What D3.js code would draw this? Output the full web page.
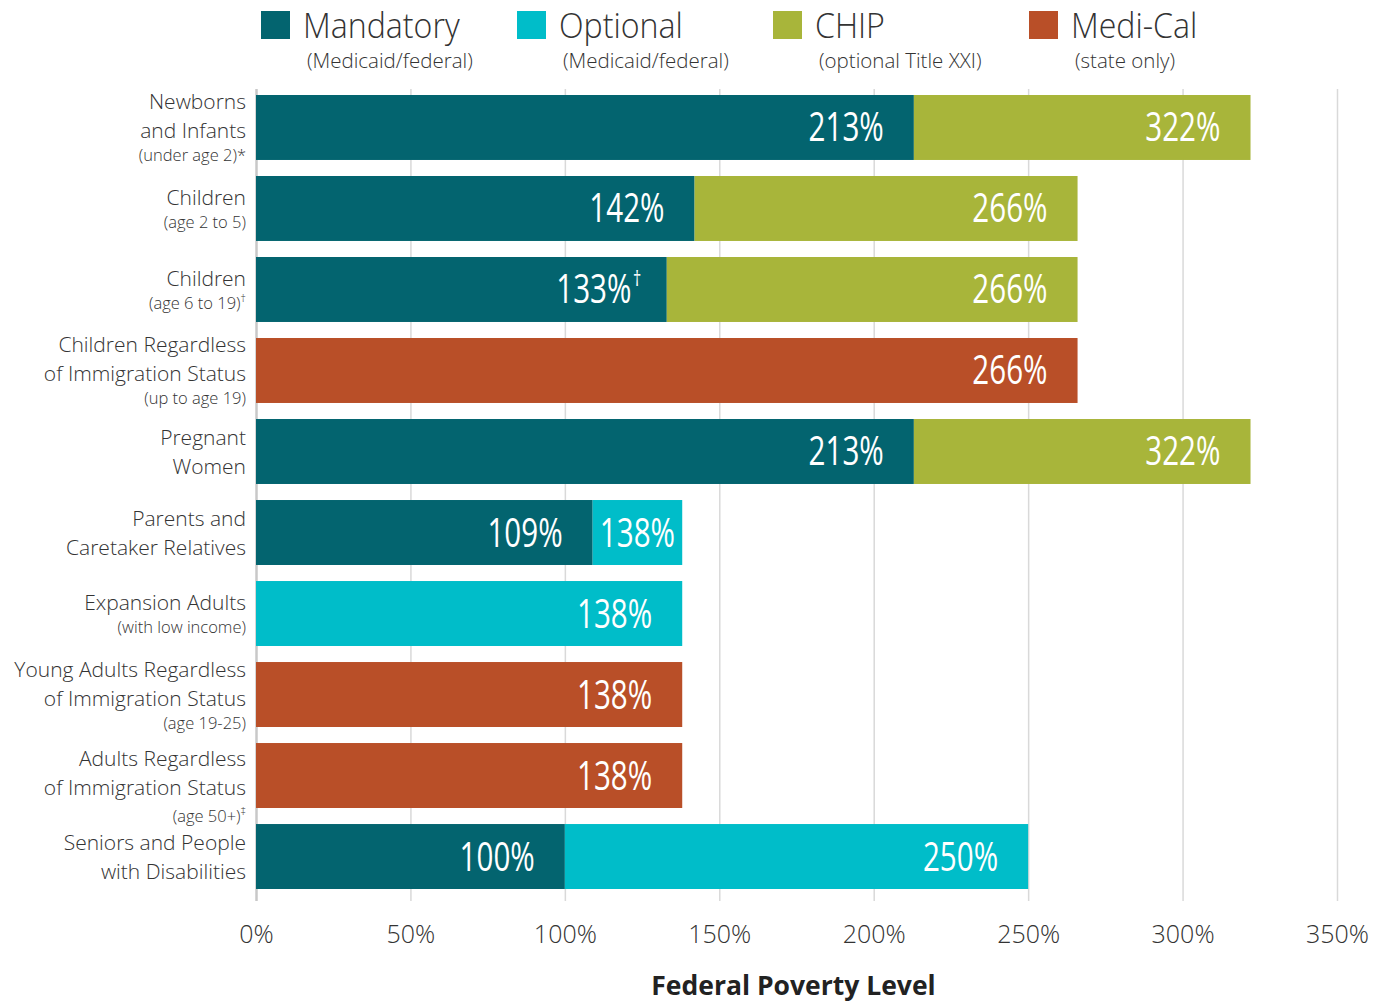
<!DOCTYPE html>
<html><head><meta charset="utf-8">
<script src="https://cdn.jsdelivr.net/npm/d3@7"></script>
<style>
html,body{margin:0;padding:0;background:#fff;}
svg{display:block;}
</style></head>
<body>
<svg id="chart" width="1374" height="1002"></svg>
<script>
// ---------- data ----------
const categories = [
  "Newborns and Infants", "Children 2-5", "Children 6-19", "Children Regardless of Immigration Status",
  "Pregnant Women", "Parents and Caretaker Relatives", "Expansion Adults",
  "Young Adults Regardless of Immigration Status", "Adults Regardless of Immigration Status",
  "Seniors and People with Disabilities"
];
const labelLines = [
  ["Newborns", "and Infants"], ["Children"], ["Children"], ["Children Regardless", "of Immigration Status"],
  ["Pregnant", "Women"], ["Parents and", "Caretaker Relatives"], ["Expansion Adults"],
  ["Young Adults Regardless", "of Immigration Status"], ["Adults Regardless", "of Immigration Status"],
  ["Seniors and People", "with Disabilities"]
];
const labelSubs = ["(under age 2)*", "(age 2 to 5)", "(age 6 to 19)", "(up to age 19)", null, null,
  "(with low income)", "(age 19-25)", "(age 50+)", null];
const labelSubSups = [null, null, "†", null, null, null, null, null, "‡", null];

// upper income thresholds (% FPL) reached by each program; null = not applicable
const mandatory = [213, 142, 133, null, 213, 109, null, null, null, 100];
const optional  = [null, null, null, null, null, 138, 138, null, null, 250];
const chip      = [322, 266, 266, null, 322, null, null, null, null, null];
const mediCal   = [null, null, null, 266, null, null, null, 138, 138, null];
const valueNotes = { "mandatory-2": "†" };

const seriesNames = ["Mandatory", "Optional", "CHIP", "Medi-Cal"];
const seriesSubs = ["(Medicaid/federal)", "(Medicaid/federal)", "(optional Title XXI)", "(state only)"];
const seriesKeys = ["mandatory", "optional", "chip", "mediCal"];
const seriesValues = [mandatory, optional, chip, mediCal];
const colors = ["#03646f", "#00bdc9", "#a8b53a", "#b94f28"];

const xTicks = [0, 50, 100, 150, 200, 250, 300, 350];
const xTitle = "Federal Poverty Level";

// ---------- layout ----------
const svg = d3.select("#chart");
const mLeft = 256, mRight = 1337, mTop = 95, mBottom = 889;
const textColor = "#333333";
const FONT = "'Open Sans', sans-serif";

const x = d3.scaleLinear().domain([0, 350]).range([mLeft, mRight]);
const y = d3.scaleBand().domain(categories).range([mTop, mBottom]).paddingInner(0.198).paddingOuter(0);

// gridlines + axis
const axis = d3.axisBottom(x).tickValues(xTicks).tickFormat(d => d + "%").tickSize(-(901 - 89)).tickPadding(0);
const gAxis = svg.append("g").attr("transform", `translate(0,901)`).call(axis);
gAxis.select(".domain").remove();
gAxis.selectAll(".tick line").attr("stroke", "#d9d9d9").attr("stroke-width", 1.5);
gAxis.selectAll(".tick").filter(d => d === 0).select("line").attr("stroke", "#c8c8c8").attr("stroke-width", 2.5);
gAxis.selectAll(".tick text").attr("y", 42).attr("dy", 0)
  .attr("font-family", FONT).attr("font-weight", 300).attr("font-size", 25).attr("fill", textColor);

svg.append("text").attr("x", (mLeft + mRight) / 2 - 3).attr("y", 995).attr("text-anchor", "middle")
  .attr("font-family", FONT).attr("font-weight", 700).attr("font-size", 26.5).attr("fill", "#222")
  .text(xTitle);

// bars
const segs = [];
categories.forEach((c, i) => {
  let start = 0;
  seriesValues.forEach((arr, s) => {
    const v = arr[i];
    if (v == null) return;
    segs.push({ cat: c, i, s, key: seriesKeys[s], x0: start, x1: v });
    start = v;
  });
});

const gBars = svg.append("g");
gBars.selectAll("rect").data(segs).enter().append("rect")
  .attr("x", d => x(d.x0)).attr("width", d => x(d.x1) - x(d.x0))
  .attr("y", d => y(d.cat)).attr("height", y.bandwidth())
  .attr("fill", d => colors[d.s]);

// bar value labels (condensed look via horizontal scale)
const SX = 0.74;
const gVals = svg.append("g");
segs.forEach(d => {
  const note = valueNotes[d.key + "-" + d.i];
  const g = gVals.append("g");
  const t = g.append("text").attr("font-family", FONT).attr("font-weight", 400).attr("font-size", 40)
    .attr("fill", "#fff").attr("x", 0).attr("y", 0);
  t.append("tspan").text(d.x1 + "%");
  if (note) t.append("tspan").attr("font-size", 22).attr("dy", -17).attr("dx", 2).text(note);
  const w = t.node().getComputedTextLength() * SX;
  const segW = x(d.x1) - x(d.x0);
  const pad = note ? 27 : 30;
  let tx;
  if (w + 2 * pad > segW) tx = x(d.x0) + (segW - w) / 2;
  else tx = x(d.x1) - pad - w;
  const cy = y(d.cat) + y.bandwidth() / 2 + 14;
  g.attr("transform", `translate(${tx},${cy}) scale(${SX},1)`);
});

// category labels
const gLab = svg.append("g").attr("font-family", FONT).attr("fill", textColor);
categories.forEach((c, i) => {
  const lines = labelLines[i];
  const sub = labelSubs[i];
  const sup = labelSubSups[i];
  const lh = 29, sh = 23;
  const total = (lines.length - 1) * lh + (sub ? sh : 0);
  const cy = y(c) + y.bandwidth() / 2 + 8 + (sup === "‡" ? 8 : 0);
  let by = cy - total / 2;
  lines.forEach((ln, k) => {
    gLab.append("text").attr("x", 246).attr("y", by + k * lh).attr("text-anchor", "end")
      .attr("font-weight", 300).attr("font-size", 21).text(ln);
  });
  if (sub) {
    const t = gLab.append("text").attr("x", 246).attr("y", by + (lines.length - 1) * lh + sh + (sup === "‡" ? 4 : 0))
      .attr("text-anchor", "end").attr("font-weight", 300).attr("font-size", 16.5);
    t.append("tspan").text(sub);
    if (sup) t.append("tspan").attr("font-size", 11).attr("dy", -7).text(sup);
  }
});

// legend
const gLeg = svg.append("g").attr("font-family", FONT).attr("fill", textColor);
seriesNames.forEach((n, s) => {
  const lx = 261 + s * 256;
  gLeg.append("rect").attr("x", lx).attr("y", 11).attr("width", 29).attr("height", 28).attr("fill", colors[s]);
  gLeg.append("text").attr("x", 0).attr("y", 0).attr("transform", `translate(${lx + 42},38) scale(0.945,1)`)
    .attr("font-weight", 300).attr("font-size", 34).text(n);
  gLeg.append("text").attr("x", lx + 46).attr("y", 68)
    .attr("font-weight", 300).attr("font-size", 20.5).text(seriesSubs[s]);
});
</script>
</body></html>
